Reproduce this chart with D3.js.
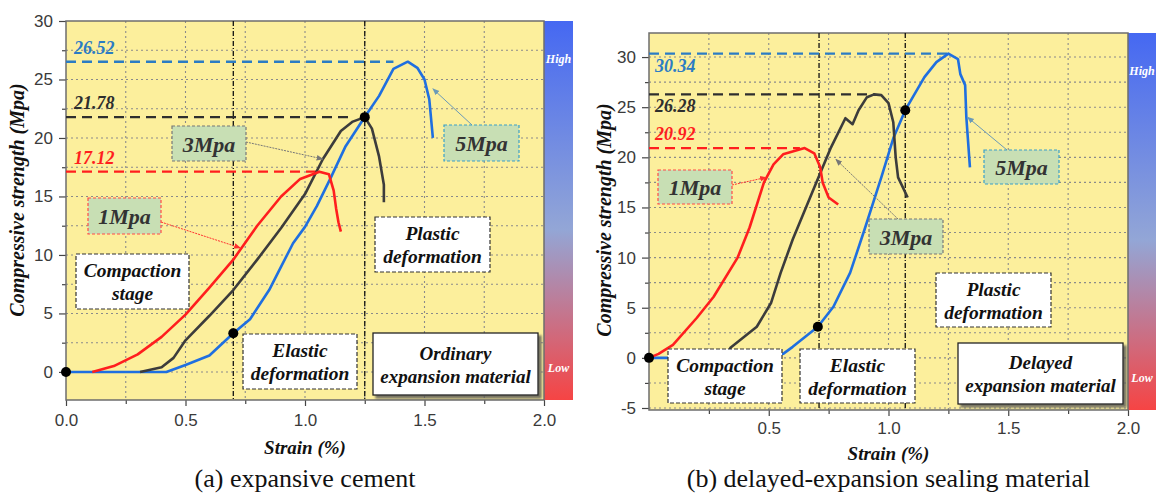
<!DOCTYPE html>
<html>
<head>
<meta charset="UTF-8">
<script src="https://d3js.org/d3.v7.min.js"></script>
<style>
  body { margin: 0; background: #fff; }
  .grid line { stroke: #8a8a8a; stroke-width: 1.1px; stroke-dasharray: 2,3; }
  .tick text { font-family: "Liberation Sans", Arial, sans-serif; font-size: 17px; fill: #3a3a3a; }
  .axis path, .axis line { stroke: #444; stroke-width: 1.2px; }
  .ann { font-family: "Liberation Serif", "Times New Roman", serif; font-weight: bold; font-style: italic; }
</style>
</head>
<body>
<svg id="fig" width="1156" height="495"></svg>
<script>
// ---- data ----
// panel (a): ordinary expansion material
const aRed = [[0.11,0],[0.2,0.5],[0.3,1.5],[0.4,3],[0.5,4.9],[0.6,7.2],[0.7,9.6],[0.8,12.5],[0.9,15],[0.98,16.5],[1.06,17.12],[1.1,16.9],[1.12,15.5],[1.13,14],[1.14,12.8],[1.15,12]];
const aBlack = [[0.31,0],[0.4,0.4],[0.45,1.2],[0.5,2.7],[0.6,4.8],[0.7,7.0],[0.8,9.6],[0.9,12.3],[1.0,15.2],[1.075,18.2],[1.15,20.6],[1.2,21.4],[1.25,21.78],[1.28,20.8],[1.31,18.4],[1.33,16],[1.33,14.5]];
const aBlue = [[0,0],[0.42,0],[0.5,0.6],[0.6,1.4],[0.7,3.3],[0.77,4.5],[0.85,7],[0.9,9],[0.95,11],[1.0,12.4],[1.05,14.2],[1.11,16.7],[1.17,19.3],[1.25,21.8],[1.31,23.6],[1.37,25.9],[1.43,26.52],[1.47,26],[1.5,25],[1.52,23.3],[1.535,20]];
const aPeaks = [26.52, 21.78, 17.12];
const aPeakEnds = [1.37, 1.2, 1.06];
const aStages = [0.7, 1.25];
const aDots = [[0,0],[0.7,3.3],[1.25,21.78]];

// panel (b): delayed expansion material
const bRed = [[0,0],[0.04,0.4],[0.1,1.3],[0.2,4],[0.27,6.1],[0.37,10],[0.42,13],[0.48,17.5],[0.52,19.3],[0.56,20.3],[0.65,20.92],[0.69,20.4],[0.715,19],[0.725,17.5],[0.75,16],[0.79,15.3]];
const bBlack = [[0.32,0],[0.34,1],[0.45,3.1],[0.51,5.5],[0.55,8.5],[0.6,11.8],[0.69,17],[0.76,21],[0.82,23.9],[0.85,23.3],[0.875,24.7],[0.91,26],[0.94,26.28],[0.97,26.2],[1.0,25.4],[1.02,23.5],[1.03,20],[1.04,18],[1.08,16]];
const bBlue = [[0,0],[0.5,0],[0.56,0.4],[0.6,1.1],[0.705,3.1],[0.77,5.1],[0.84,8.5],[0.9,12.8],[0.97,18],[1.02,21.9],[1.07,24.7],[1.15,28],[1.2,29.5],[1.25,30.34],[1.29,29.8],[1.3,28.3],[1.32,27.2],[1.325,24],[1.34,19]];
const bPeaks = [30.34, 26.28, 20.92];
const bPeakEnds = [1.26, 0.94, 0.63];
const bStages = [0.71, 1.07];
const bDots = [[0,0],[0.705,3.1],[1.07,24.7]];

const seriesColors = ['#1f6fe0', '#3c3c3c', '#ff1e1e'];   // 5Mpa, 3Mpa, 1Mpa
const labelColors = ['#2b7cc4', '#2e2e2e', '#ff1e1e'];
const pressures = ['5Mpa', '3Mpa', '1Mpa'];

const svg = d3.select('#fig');

// gradient for the colour bar
const defs = svg.append('defs');
const grad = defs.append('linearGradient').attr('id', 'cbar').attr('x1', 0).attr('x2', 0).attr('y1', 0).attr('y2', 1);
grad.append('stop').attr('offset', '0%').attr('stop-color', '#4568f2');
grad.append('stop').attr('offset', '55%').attr('stop-color', '#93a6d6');
grad.append('stop').attr('offset', '100%').attr('stop-color', '#f64444');
const sh = defs.append('filter').attr('id', 'shadow').attr('x', '-10%').attr('y', '-10%').attr('width', '130%').attr('height', '130%');
sh.append('feDropShadow').attr('dx', 3).attr('dy', 3).attr('stdDeviation', 1).attr('flood-color', '#555').attr('flood-opacity', 0.8);

const numFmt = d => (d < 0 ? '-' + Math.abs(d) : String(d));

function panel(cfg) {
  const x = d3.scaleLinear().domain([0, 2]).range([cfg.left, cfg.right]);
  const y = d3.scaleLinear().domain(cfg.ydom).range([cfg.bottom, cfg.top]);
  const g = svg.append('g');

  g.append('rect').attr('x', cfg.left).attr('y', cfg.top)
    .attr('width', cfg.right - cfg.left).attr('height', cfg.bottom - cfg.top)
    .attr('fill', '#fcef9c');

  // colour bar
  g.append('rect').attr('x', cfg.right).attr('y', cfg.top)
    .attr('width', cfg.barW).attr('height', cfg.bottom - cfg.top).attr('fill', 'url(#cbar)');
  g.append('text').attr('class', 'ann').attr('x', cfg.right + cfg.barW / 2).attr('y', cfg.highY)
    .attr('text-anchor', 'middle').attr('font-size', 12).attr('fill', '#fff').text('High');
  g.append('text').attr('class', 'ann').attr('x', cfg.right + cfg.barW / 2).attr('y', cfg.lowY)
    .attr('text-anchor', 'middle').attr('font-size', 12).attr('fill', '#fff').text('Low');

  // grid
  const xg = d3.range(0.25, 2, 0.25);
  const yg = d3.range(Math.ceil(cfg.ydom[0] / 2.5) * 2.5, cfg.ydom[1], 2.5).filter(v => v > cfg.ydom[0]);
  const grid = g.append('g').attr('class', 'grid');
  grid.selectAll('line.v').data(xg).join('line').attr('class', 'v')
    .attr('x1', d => x(d)).attr('x2', d => x(d)).attr('y1', cfg.top).attr('y2', cfg.bottom);
  grid.selectAll('line.h').data(yg).join('line').attr('class', 'h')
    .attr('x1', cfg.left).attr('x2', cfg.right).attr('y1', d => y(d)).attr('y2', d => y(d));

  // axes
  const xAxis = d3.axisBottom(x).tickValues(cfg.xticks).tickFormat(d3.format('.1f')).tickSize(6).tickPadding(cfg.xPad);
  const xMinor = d3.axisBottom(x).tickValues(d3.range(0.25, 2, 0.5)).tickFormat('').tickSize(4);
  g.append('g').attr('class', 'axis').attr('transform', `translate(0,${cfg.bottom})`).call(xAxis)
    .call(a => a.select('.domain').remove());
  g.append('g').attr('class', 'axis').attr('transform', `translate(0,${cfg.bottom})`).call(xMinor)
    .call(a => a.select('.domain').remove());
  const yAxis = d3.axisLeft(y).tickValues(cfg.yticks).tickFormat(numFmt).tickSize(7).tickPadding(6);
  const yMinor = d3.axisLeft(y).tickValues(cfg.yticks.map(v => v + 2.5).filter(v => v < cfg.ydom[1])).tickFormat('').tickSize(4);
  g.append('g').attr('class', 'axis').attr('transform', `translate(${cfg.left},0)`).call(yAxis)
    .call(a => a.select('.domain').remove());
  g.append('g').attr('class', 'axis').attr('transform', `translate(${cfg.left},0)`).call(yMinor)
    .call(a => a.select('.domain').remove());

  g.append('rect').attr('x', cfg.left).attr('y', cfg.top)
    .attr('width', cfg.right - cfg.left).attr('height', cfg.bottom - cfg.top)
    .attr('fill', 'none').attr('stroke', '#6d6d6d').attr('stroke-width', 1.5);

  // stage boundaries
  g.selectAll('line.stage').data(cfg.stages).join('line').attr('class', 'stage')
    .attr('x1', d => x(d)).attr('x2', d => x(d)).attr('y1', cfg.top).attr('y2', cfg.bottom)
    .attr('stroke', '#111').attr('stroke-width', 1.3).attr('stroke-dasharray', '5,2,1,2');

  // peak lines
  cfg.peaks.forEach((p, i) => {
    g.append('line').attr('x1', x(0)).attr('x2', x(cfg.peakEnds[i])).attr('y1', y(p)).attr('y2', y(p))
      .attr('stroke', labelColors[i]).attr('stroke-width', 2.4).attr('stroke-dasharray', '10,6');
    g.append('text').attr('class', 'ann').attr('x', x(0) + cfg.peakLabelDx).attr('y', y(p) + cfg.peakLabelDy[i])
      .attr('font-size', 18).attr('fill', labelColors[i]).text(p.toFixed(2));
  });

  const line = d3.line().x(d => x(d[0])).y(d => y(d[1]));
  const box = (b, fill, stroke, dash) => {
    g.append('rect').attr('x', b[0]).attr('y', b[1]).attr('width', b[2] - b[0]).attr('height', b[3] - b[1])
      .attr('fill', fill).attr('stroke', stroke).attr('stroke-width', 1.2).attr('stroke-dasharray', dash);
  };

  // curves
  cfg.series.forEach((s, i) => {
    g.append('path').datum(s).attr('d', line).attr('fill', 'none')
      .attr('stroke', seriesColors[i]).attr('stroke-width', 2.6).attr('stroke-linejoin', 'round');
  });

  // stage boxes (drawn after curves, they hide parts)
  cfg.stageBoxes.forEach(b => {
    box(b.r, '#fff', '#333', '4,2');
    b.lines.forEach((t, k) => {
      g.append('text').attr('class', 'ann').attr('x', (b.r[0] + b.r[2]) / 2)
        .attr('y', (b.r[1] + b.r[3]) / 2 + (k - (b.lines.length - 1) / 2) * 23 + 7)
        .attr('text-anchor', 'middle').attr('font-size', 19.5).attr('fill', '#111').text(t);
    });
  });

  // material box
  const m = cfg.material;
  g.append('rect').attr('x', m.r[0]).attr('y', m.r[1]).attr('width', m.r[2] - m.r[0]).attr('height', m.r[3] - m.r[1])
    .attr('fill', '#fff').attr('stroke', '#222').attr('stroke-width', 1.3).attr('filter', 'url(#shadow)');
  m.lines.forEach((t, k) => {
    g.append('text').attr('class', 'ann').attr('x', (m.r[0] + m.r[2]) / 2)
      .attr('y', (m.r[1] + m.r[3]) / 2 + (k - 0.5) * 23 + 7)
      .attr('text-anchor', 'middle').attr('font-size', 19).attr('fill', '#111').text(t);
  });

  // dots
  g.selectAll('circle.dot').data(cfg.dots).join('circle').attr('class', 'dot')
    .attr('cx', d => x(d[0])).attr('cy', d => y(d[1])).attr('r', 5).attr('fill', '#000');

  // pressure labels with arrows
  cfg.pLabels.forEach((p, i) => {
    const idx = pressures.indexOf(p.t);
    const arrowColor = ['#6a9ab8', '#777', '#ff3030'][idx];
    const id = 'arr' + cfg.id + i;
    defs.append('marker').attr('id', id).attr('viewBox', '0 0 10 10').attr('refX', 9).attr('refY', 5)
      .attr('markerWidth', 7).attr('markerHeight', 7).attr('orient', 'auto')
      .append('path').attr('d', 'M0,1 L10,5 L0,9 Z').attr('fill', arrowColor);
    g.append('line').attr('x1', p.a[0]).attr('y1', p.a[1]).attr('x2', x(p.a[2])).attr('y2', y(p.a[3]))
      .attr('stroke', arrowColor).attr('stroke-width', 1).attr('stroke-dasharray', idx === 0 ? null : '2,1')
      .attr('marker-end', `url(#${id})`);
    box(p.r, '#c8dfb4', ['#3aa0c8', '#777', '#ff4a4a'][idx], '3,2');
    g.append('text').attr('class', 'ann').attr('x', (p.r[0] + p.r[2]) / 2).attr('y', (p.r[1] + p.r[3]) / 2 + 8)
      .attr('text-anchor', 'middle').attr('font-size', 22).attr('fill', '#333').text(p.t);
  });

  // axis titles & caption
  g.append('text').attr('class', 'ann').attr('transform', `translate(${cfg.yTitleX},${cfg.yTitleY}) rotate(-90)`)
    .attr('text-anchor', 'middle').attr('font-size', 20).attr('fill', '#111').text('Compressive strength (Mpa)');
  g.append('text').attr('class', 'ann').attr('x', x(1)).attr('y', cfg.xTitleY)
    .attr('text-anchor', 'middle').attr('font-size', 19).attr('fill', '#111').text('Strain (%)');
  g.append('text').attr('x', x(1)).attr('y', 487).attr('text-anchor', 'middle')
    .attr('font-family', '"Liberation Serif", "Times New Roman", serif').attr('font-size', 26).attr('fill', '#111')
    .text(cfg.caption);
}

panel({
  id: 'a', left: 66, right: 544, top: 21, bottom: 400, ydom: [-2.4, 30], barW: 29, highY: 63, lowY: 372,
  xticks: [0, 0.5, 1, 1.5, 2], yticks: [0, 5, 10, 15, 20, 25, 30], xPad: 8,
  series: [aBlue, aBlack, aRed], peaks: aPeaks, peakEnds: aPeakEnds, peakLabelDx: 8, peakLabelDy: [-8, -8, -8],
  stages: aStages, dots: aDots,
  stageBoxes: [
    { r: [76, 254, 189, 309], lines: ['Compaction', 'stage'] },
    { r: [243, 334, 357, 389], lines: ['Elastic', 'deformation'] },
    { r: [375, 217, 490, 272], lines: ['Plastic', 'deformation'] }
  ],
  material: { r: [373, 333, 538, 395], lines: ['Ordinary', 'expansion material'] },
  pLabels: [
    { t: '3Mpa', r: [172, 126, 246, 161], a: [246, 142, 1.075, 18.2] },
    { t: '1Mpa', r: [88, 198, 161, 234], a: [161, 222, 0.73, 10.6] },
    { t: '5Mpa', r: [444, 125, 519, 161], a: [472, 125, 1.535, 24.2] }
  ],
  yTitleX: 24, yTitleY: 200, xTitleY: 454, caption: '(a) expansive cement'
});

panel({
  id: 'b', left: 649, right: 1128, top: 33, bottom: 410, ydom: [-5.2, 32.4], barW: 28, highY: 75, lowY: 382,
  xticks: [0.5, 1, 1.5, 2], yticks: [-5, 0, 5, 10, 15, 20, 25, 30], xPad: 6,
  series: [bBlue, bBlack, bRed], peaks: bPeaks, peakEnds: bPeakEnds, peakLabelDx: 6, peakLabelDy: [18, 18, -8],
  stages: bStages, dots: bDots,
  stageBoxes: [
    { r: [668, 349, 782, 403], lines: ['Compaction', 'stage'] },
    { r: [800, 349, 915, 403], lines: ['Elastic', 'deformation'] },
    { r: [936, 273, 1051, 327], lines: ['Plastic', 'deformation'] }
  ],
  material: { r: [958, 343, 1123, 404], lines: ['Delayed', 'expansion material'] },
  pLabels: [
    { t: '1Mpa', r: [658, 170, 732, 204], a: [732, 185, 0.49, 18] },
    { t: '3Mpa', r: [869, 219, 943, 254], a: [898, 219, 0.78, 19.8] },
    { t: '5Mpa', r: [984, 150, 1059, 184], a: [1007, 150, 1.33, 24] }
  ],
  yTitleX: 611, yTitleY: 220, xTitleY: 460, caption: '(b) delayed-expansion sealing material'
});
</script>
</body>
</html>
